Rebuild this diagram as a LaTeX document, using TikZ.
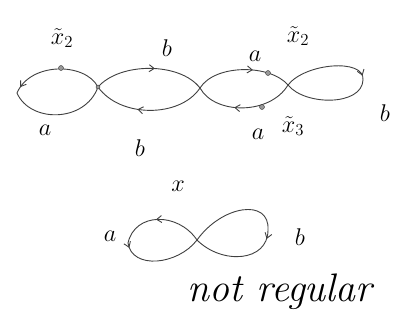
\documentclass[tikz,border=0pt]{standalone}
\usetikzlibrary{decorations.markings,arrows.meta}
\begin{document}
\begin{tikzpicture}[x=1pt,y=-1pt,
  curve/.style={draw=black!75,line width=0.9pt},
  lbl/.style={font=\LARGE,scale=1.4},
  vdot/.style={circle,draw=black!80,fill=black!40,inner sep=0pt,minimum size=5pt},
  arr/.style={postaction={decorate},decoration={markings,mark=at position #1 with {\arrow{Straight Barb[length=5pt,width=7pt]}}}}]
\useasboundingbox (0,0) rectangle (409,329);
% key points
\coordinate (L1) at (17,93);
\coordinate (C1) at (98,87);
\coordinate (C2) at (200,88);
\coordinate (C3) at (288,85);
\coordinate (R4) at (363,80);
% loop 1
\path[curve,arr=0.93] (C1) .. controls (85,62) and (30,62) .. (L1);
\path[curve] (L1) .. controls (30,123) and (85,123) .. (C1);
% loop 2
\path[curve,arr=0.55] (C1) .. controls (120,62) and (180,62) .. (C2);
\path[curve,arr=0.6] (C2) .. controls (180,118) and (120,118) .. (C1);
% loop 3
\path[curve,arr=0.6] (C2) .. controls (215,64) and (270,64) .. (C3);
\path[curve,arr=0.6] (C3) .. controls (270,115) and (215,115) .. (C2);
% loop 4
\path[curve,arr=0.95] (C3) .. controls (305,63) and (365,58) .. (R4);
\path[curve] (R4) .. controls (362,106) and (305,106) .. (C3);
% dots
\node[vdot] (d1) at (61,68) {};
\node[vdot,minimum size=4pt] (d2) at (C1) {};
\node[vdot] (d3) at (268,73) {};
\node[vdot] (d4) at (262,107) {};
% labels top
\node[lbl] (t1) at (62,38) {$\tilde{x}_2$};
\node[lbl] (t2) at (167,48) {$b$};
\node[lbl] (t3) at (45,130) {$a$};
\node[lbl] (t4) at (140,148) {$b$};
\node[lbl] (t5) at (255,56) {$a$};
\node[lbl] (t6) at (298,36) {$\tilde{x}_2$};
\node[lbl] (t7) at (385,113) {$b$};
\node[lbl] (t8) at (258,134) {$a$};
\node[lbl] (t9) at (293,126) {$\tilde{x}_3$};
% bottom figure eight
\coordinate (X) at (197,240);
\coordinate (BL) at (128,243);
\coordinate (BR) at (268,230);
\path[curve,arr=0.55] (X) .. controls (178,212) and (135,212) .. (BL);
\path[curve,arr=0.06] (BL) .. controls (132,270) and (178,265) .. (X);
\path[curve] (X) .. controls (222,205) and (270,198) .. (BR);
\path[curve,arr=0.1] (BR) .. controls (268,262) and (222,265) .. (X);
\node[lbl] (bx) at (178,186) {$x$};
\node[lbl] (ba) at (110,236) {$a$};
\node[lbl] (bb) at (300,237) {$b$};
\node[font=\Huge\itshape,scale=1.6] (nr) at (280,292) {not regular};
\end{tikzpicture}
\end{document}
